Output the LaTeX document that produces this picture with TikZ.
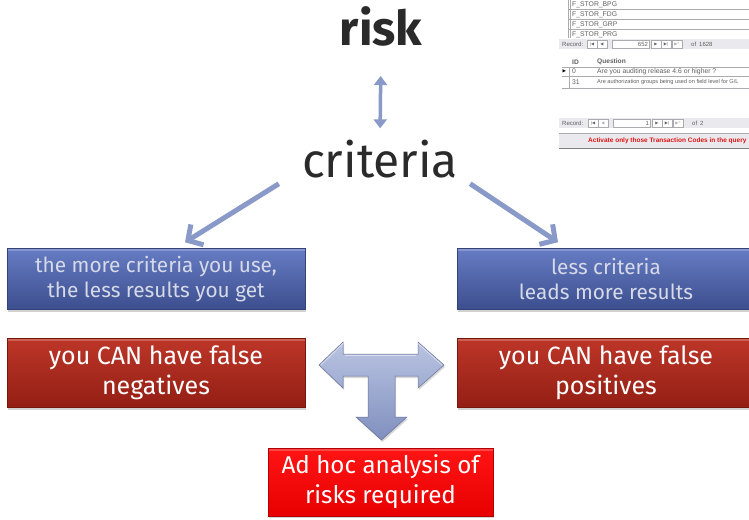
\documentclass[tikz,border=0pt]{standalone}
\usepackage{fontspec}
\setmainfont{Fira Sans}
\newfontfamily\uifont{Liberation Sans}
\newfontfamily\symfont{DejaVu Sans}
\usetikzlibrary{arrows.meta,shadows}

\definecolor{arrowblue}{RGB}{138,154,200}
\definecolor{tarrowtop}{RGB}{186,196,226}
\definecolor{tarrowbot}{RGB}{128,143,190}
\definecolor{bluetop}{RGB}{102,124,195}
\definecolor{bluebot}{RGB}{60,78,142}
\definecolor{blueedge}{RGB}{52,66,120}
\definecolor{bluetext}{RGB}{214,218,232}
\definecolor{redtop}{RGB}{188,54,40}
\definecolor{redbot}{RGB}{148,30,20}
\definecolor{rededge}{RGB}{120,22,14}
\definecolor{hottop}{RGB}{255,20,20}
\definecolor{hotbot}{RGB}{232,0,0}
\definecolor{titlegray}{RGB}{42,42,42}
\definecolor{uigray}{RGB}{95,95,95}
\definecolor{uiline}{RGB}{170,170,175}
\definecolor{uibar}{RGB}{234,234,238}
\definecolor{uired}{RGB}{225,20,20}

\tikzset{
  titletext/.style={inner sep=0pt, text=titlegray, anchor=base},
  panel/.style={rectangle, minimum width=298pt, align=center, inner sep=0pt,
    drop shadow={shadow xshift=1pt, shadow yshift=-2pt, opacity=0.35},
    path picture={\fill[white,opacity=0.22] (path picture bounding box.north west)
      rectangle ([yshift=-2.5pt]path picture bounding box.north east);}},
  bluebox/.style={panel, minimum height=61pt, top color=bluetop, bottom color=bluebot,
    draw=blueedge, line width=0.5pt, text=bluetext,
    font=\fontsize{20.8}{25}\selectfont},
  redbox/.style={panel, minimum height=69pt, top color=redtop, bottom color=redbot,
    draw=rededge, line width=0.5pt, text=white,
    font=\fontsize{25}{30}\selectfont},
  hotbox/.style={panel, minimum width=225pt, minimum height=68pt, top color=hottop,
    bottom color=hotbot, draw=red!70!black, line width=0.5pt, text=white,
    font=\fontsize{24.2}{30}\selectfont},
  diag/.style={draw=arrowblue, line width=5pt,
    -{Straight Barb[length=11pt, width=24pt]}},
  link/.style={draw=arrowblue, line width=3.5pt,
    {Triangle[length=9pt, width=13pt]}-{Triangle[length=9pt, width=13pt]}},
  ui/.style={font=\uifont\fontsize{6.8}{7}\selectfont, text=uigray, inner sep=0pt, anchor=west},
  uibold/.style={ui, font=\uifont\bfseries\fontsize{6.6}{7}\selectfont},
  uismall/.style={ui, font=\uifont\fontsize{6}{6}\selectfont},
  navbtn/.style={draw=uiline, fill=white, minimum width=10pt, minimum height=8pt,
    inner sep=0pt, font=\symfont\fontsize{4}{4}\selectfont, text=uigray},
  navfield/.style={draw=uiline, fill=white, minimum width=37pt, minimum height=8pt,
    inner sep=1pt, font=\uifont\fontsize{6}{6}\selectfont, text=uigray, align=right,
    text width=34pt},
}

\begin{document}
\begin{tikzpicture}[x=1pt,y=-1pt]
\useasboundingbox (0,0) rectangle (749,519);
\fill[white] (0,0) rectangle (749,519);

% ---------- database form in the top right corner ----------
\begin{scope}
  \clip (559,0) rectangle (749,150);
  % list of objects
  \foreach \yy in {9.5,19.5,29.5}
    \draw[uiline, line width=0.4pt] (568,\yy) -- (749,\yy);
  \draw[uiline, line width=0.4pt] (568,0) -- (568,38);
  \draw[uiline, line width=0.4pt] (570,0) -- (570,38);
  \node[ui] (o1) at (572,4.5) {F\_STOR\_BPG};
  \node[ui] (o2) at (572,14.5) {F\_STOR\_FDG};
  \node[ui] (o3) at (572,24.5) {F\_STOR\_GRP};
  \node[ui] (o4) at (572,34.5) {F\_STOR\_PRG};
  % record navigator of the list
  \fill[uibar] (559,39) rectangle (749,49);
  \node[uismall] (r1) at (562,44) {Record:};
  \node[navbtn] (r1a) at (592,44) {|◀};
  \node[navbtn] (r1b) at (602,44) {◀};
  \node[navfield] (r1f) at (631,44) {652};
  \node[navbtn] (r1c) at (656,44) {▶};
  \node[navbtn] (r1d) at (666,44) {▶|};
  \node[navbtn, text=uiline] (r1e) at (677,44) {▶*};
  \node[uismall] (r1t) at (691,44) {of\enspace 1628};
  % question table
  \node[uibold] (hid) at (572,62) {ID};
  \node[uibold] (hq) at (597,62) {Question};
  \draw[uiline, line width=0.4pt] (562,67) -- (749,67);
  \draw[uiline, line width=0.4pt] (562,76.5) -- (749,76.5);
  \draw[uiline, line width=0.4pt] (562,88) -- (749,88);
  \draw[uiline, line width=0.4pt] (569,67) -- (569,88);
  \node[ui, font=\symfont\fontsize{4.5}{4.5}\selectfont, text=black] (sel) at (562.5,71.5) {▶};
  \node[ui] (q0) at (572,71.5) {0};
  \node[ui] (q0t) at (597,71.5) {Are you auditing release 4.6 or higher ?};
  \node[ui] (q1) at (572,82) {31};
  \node[ui, font=\uifont\fontsize{5.6}{7}\selectfont] (q1t) at (597,82) {Are authorization groups being used on field level for G/L};
  % record navigator of the table
  \fill[uibar] (559,118) rectangle (749,128);
  \node[uismall] (r2) at (562,123) {Record:};
  \node[navbtn] (r2a) at (593,123) {|◀};
  \node[navbtn, text=uiline] (r2b) at (603,123) {◀};
  \node[navfield] (r2f) at (632,123) {1};
  \node[navbtn] (r2c) at (657,123) {▶};
  \node[navbtn] (r2d) at (667,123) {▶|};
  \node[navbtn, text=uiline] (r2e) at (678,123) {▶*};
  \node[uismall] (r2t) at (692,123) {of\enspace 2};
  % message bar
  \fill[uibar] (559,133) rectangle (749,148);
  \draw[uiline, line width=0.5pt] (559,133) -- (749,133);
  \draw[gray, line width=0.6pt] (559,148) -- (749,148);
  \node[uibold, text=uired, font=\uifont\bfseries\fontsize{6.5}{7}\selectfont] (msg) at (588,141) {Activate only those Transaction Codes in the query};
\end{scope}

% ---------- titles ----------
\node[titletext, font=\fontsize{48}{50}\selectfont\bfseries] (risk) at (381,46) {risk};
\node[titletext, font=\fontsize{48}{50}\selectfont] (criteria) at (380,177) {criteria};

% ---------- boxes ----------
\node[bluebox] (lb) at (156,279) {the more criteria you use,\\the less results you get};
\node[bluebox] (rb) at (606,279) {less criteria\\leads more results};
\node[redbox] (lr) at (156,373) {you CAN have false\\negatives};
\node[redbox] (rr) at (606,373) {you CAN have false\\positives};
\node[hotbox] (adhoc) at (380.5,482) {Ad hoc analysis of\\risks required};

% ---------- connectors ----------
\draw[link, shorten <=29pt, shorten >=11pt] (risk.south) -- (criteria.north);
\draw[diag] ([shift={(-23,6)}]criteria.south west) -- ([shift={(29,-6)}]lb.north);
\draw[diag] ([shift={(12,6)}]criteria.south east) -- ([shift={(-48,-6)}]rb.north);

% ---------- T shaped arrow between the red boxes ----------
\shade[top color=tarrowtop, bottom color=tarrowbot, draw=tarrowbot!80!black, line width=0.5pt,
       drop shadow={shadow xshift=1pt, shadow yshift=-2pt, opacity=0.3}]
  (319,365) -- (343,342) -- (343,354) -- (418,354) -- (418,342) -- (444,365)
  -- (418,388) -- (418,376) -- (395,376) -- (395,417) -- (407,417) -- (381.5,440)
  -- (356,417) -- (368,417) -- (368,376) -- (343,376) -- (343,388) -- cycle;
\draw[white, opacity=0.5, line width=0.8pt]
  (321,365) -- (343,343.5) (345,355.5) -- (416,355.5) (418,343.5) -- (442,365);
\end{tikzpicture}
\end{document}
